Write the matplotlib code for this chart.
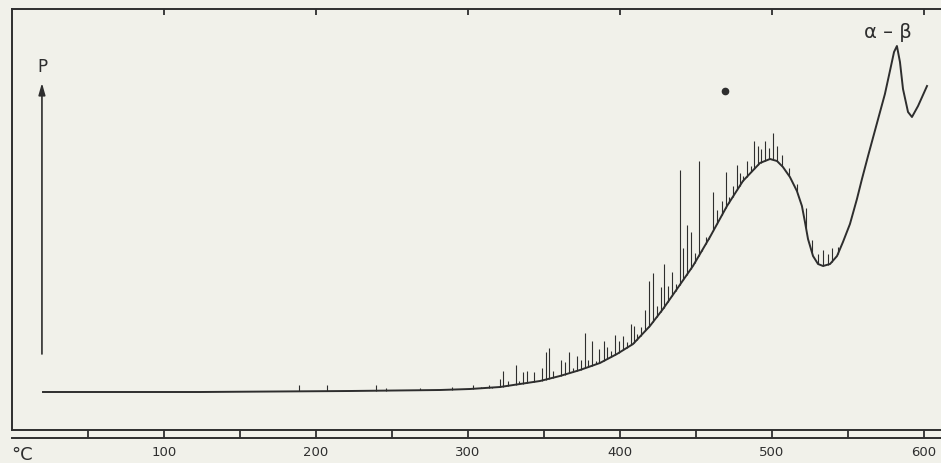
import numpy as np
import matplotlib.pyplot as plt

INK = '#2e2e2e'
PAPER = '#f1f1ea'

# smooth trace P(T) (T in deg C, P arbitrary units)
curve_t = [20.4, 123.7, 222.4, 281.6, 301.3, 321.1, 334.2, 347.4, 360.5, 373.7,
           386.8, 398.0, 408.6, 419.7, 428.3, 437.5, 448.0, 459.2, 470.4, 480.9,
           492.1, 498.7, 503.3, 507.2, 511.8, 516.4, 519.7, 521.7, 523.7, 527.0,
           530.3, 533.6, 538.2, 542.8, 546.7, 551.3, 555.9, 559.2, 563.2, 569.1,
           574.3, 577.6, 580.3, 582.2, 584.2, 586.2, 589.5, 592.1, 596.1, 602.0]
curve_p = [38, 38, 39, 40, 41, 43, 46, 49, 54, 60,
           67, 76, 86, 104, 121, 141, 164, 193, 224, 249,
           267, 271, 269, 263, 253, 239, 224, 208, 191, 174,
           166, 164, 166, 174, 188, 206, 231, 251, 274, 307,
           336, 359, 378, 384, 368, 341, 318, 313, 324, 344]

# tops of the emission spikes standing on the trace
spike_t = [188.8, 207.2, 239.5, 246.1, 268.4, 289.5, 303.3, 308.6, 313.8, 315.8,
           321.1, 323.0, 326.3, 331.6, 333.6, 336.2, 338.8, 343.4, 348.7, 351.3,
           353.3, 355.9, 361.2, 363.8, 366.4, 369.1, 371.7, 374.3, 377.0, 378.9,
           381.6, 384.2, 386.2, 389.5, 391.4, 394.1, 396.7, 399.3, 402.0, 404.6,
           407.2, 409.2, 411.2, 413.8, 416.4, 419.1, 421.7, 424.3, 427.0, 428.9,
           431.6, 434.2, 436.8, 439.5, 441.4, 444.1, 446.7, 449.3, 452.0, 453.9,
           456.6, 458.6, 461.2, 463.8, 467.1, 469.7, 471.7, 474.3, 477.0, 478.9,
           480.9, 483.6, 486.2, 488.2, 490.8, 492.8, 495.4, 498.0, 500.7, 503.3,
           506.6, 511.2, 516.4, 522.4, 526.3, 530.3, 533.6, 536.8, 539.5, 543.4]
spike_p = [45, 45, 45, 42, 42, 43, 45, 43, 45, 43,
           51, 59, 49, 65, 49, 58, 59, 58, 62, 78,
           82, 59, 70, 68, 78, 62, 74, 70, 97, 70,
           89, 69, 81, 89, 83, 79, 95, 89, 94, 88,
           106, 104, 96, 103, 120, 149, 157, 124, 143, 166,
           144, 158, 146, 260, 182, 205, 198, 177, 269, 181,
           193, 194, 238, 220, 229, 258, 233, 244, 265, 257,
           254, 269, 264, 289, 284, 281, 289, 282, 297, 284,
           275, 262, 246, 222, 190, 176, 180, 176, 182, 183]

major_ticks = [100, 200, 300, 400, 500, 600]
minor_ticks = [50, 150, 250, 350, 450, 550]
tick_labels = ['100', '200', '300', '400', '500', '600']

fig = plt.figure(figsize=(9.41, 4.64), dpi=100, facecolor=PAPER)
ax = fig.add_axes([12 / 941, 33 / 464, 929 / 941, 421 / 464])
ax.set_facecolor(PAPER)
ax.set_xlim(0, 611.2)
ax.set_ylim(0, 421)

ax.plot(curve_t, curve_p, color=INK, lw=1.4, solid_joinstyle='round')
base = np.interp(spike_t, curve_t, curve_p)
ax.vlines(spike_t, base, spike_p, color=INK, lw=0.8)

# stray ink dot on the original
ax.plot([469], [339], 'o', ms=4.5, color=INK)

for s in ['left', 'bottom', 'top']:
    ax.spines[s].set_linewidth(1.4)
    ax.spines[s].set_color(INK)
ax.spines['right'].set_visible(False)

ax.set_yticks([])
ax.set_xticks(major_ticks)
ax.set_xticklabels(tick_labels, family=['Liberation Sans Narrow', 'DejaVu Sans'],
                   fontsize=9.5, color=INK)
ax.set_xticks(minor_ticks, minor=True)
ax.tick_params(axis='x', which='both', direction='out', length=5.8, width=1.3,
               color=INK, pad=5)
# second rule under the tick strip
ax.axhline(-8, color=INK, lw=1.4, clip_on=False)

top = ax.secondary_xaxis('top')
top.set_xticks(major_ticks)
top.tick_params(direction='in', length=4.5, width=1.3, color=INK, labeltop=False)
top.spines['top'].set_visible(False)

ax.text(19.7, 364, 'P', ha='center', va='center', fontsize=12, color=INK)
ax.annotate('', xy=(19.7, 347), xytext=(19.7, 76),
            arrowprops=dict(arrowstyle='-|>,head_width=0.2,head_length=0.7',
                            color=INK, lw=1.2, shrinkA=0, shrinkB=0))
ax.text(6.6, -24, '°C', ha='center', va='center', fontsize=13, color=INK,
        family=['Liberation Sans Narrow', 'DejaVu Sans'])
ax.text(576.3, 399, 'α – β', ha='center', va='center', fontsize=14, color=INK)

fig.savefig('out.png', dpi=100, facecolor=PAPER)
